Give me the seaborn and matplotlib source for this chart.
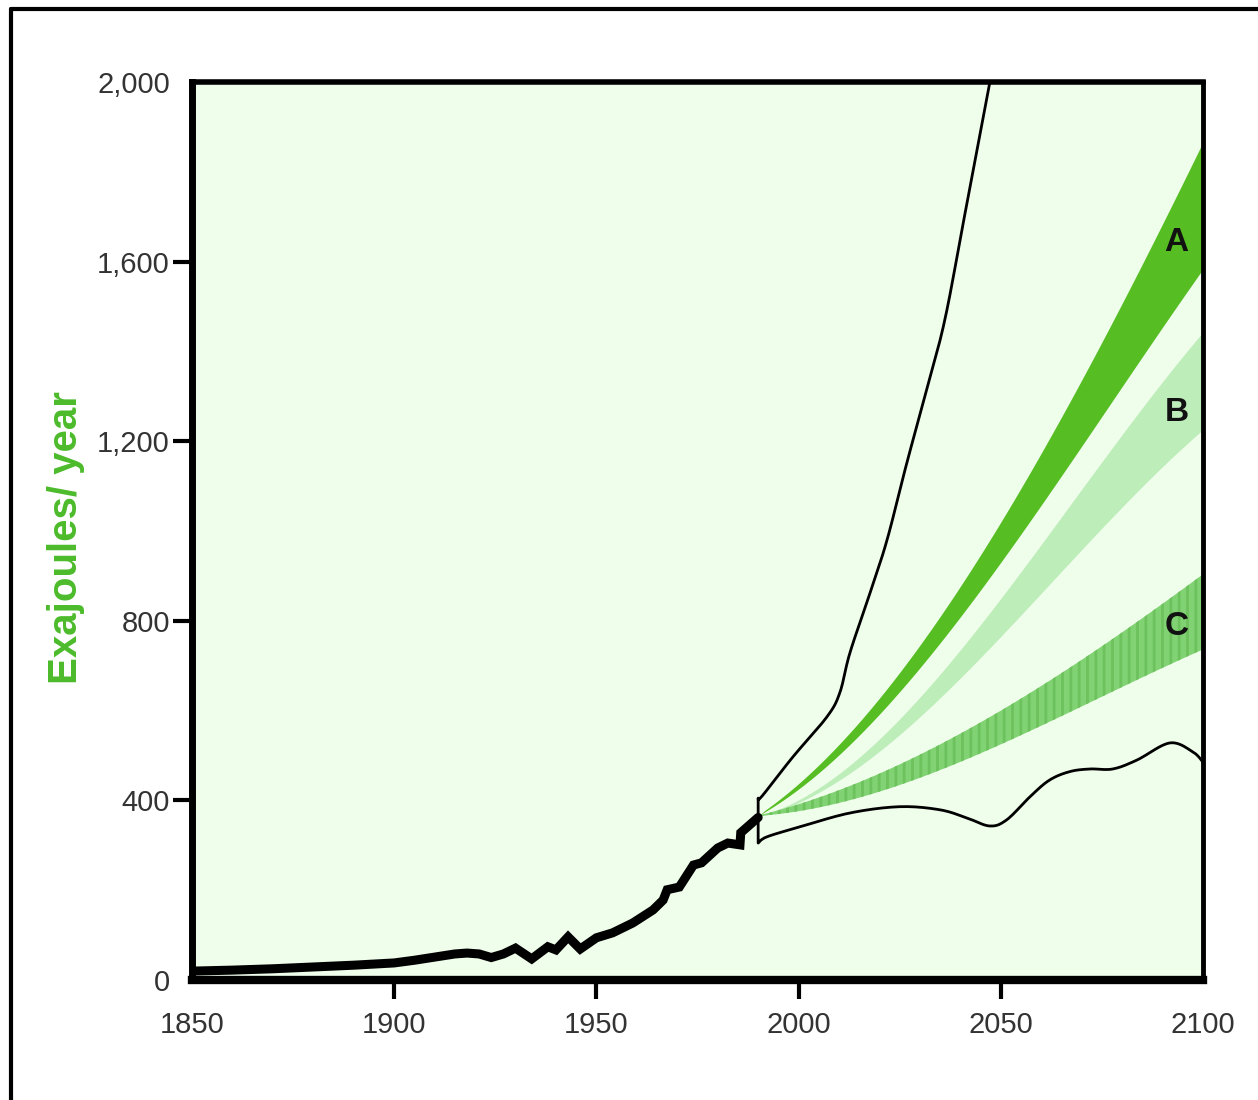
import numpy as np
import pandas as pd
import matplotlib
matplotlib.use('Agg')
import matplotlib.pyplot as plt
from matplotlib.lines import Line2D
import seaborn as sns

# historical energy use (thick line)
hist_years = [1851, 1860, 1870, 1880, 1890, 1900, 1905, 1910, 1915, 1918, 1921, 1924,
              1927, 1930, 1934, 1938, 1940, 1943, 1946, 1950, 1954, 1959, 1964, 1966.5,
              1967.5, 1970.5, 1974, 1976, 1980, 1982.5, 1985.5, 1985.7, 1990]
hist_vals = [20, 22, 25, 29, 33, 38, 44, 51, 58, 60, 58, 50,
             58, 71, 47, 74, 67, 96, 69, 94, 105, 127, 156, 178,
             201, 207, 256, 261, 294, 305, 301, 328, 362]

# upper / lower envelope of all scenarios (thin lines)
upper_years = [1990, 1990, 1991, 1998.6, 2007, 2010.2, 2012.7, 2017.7, 2021.9, 2026.8,
               2031.7, 2036.2, 2041, 2047.3, 2050]
upper_vals = [362, 405, 410, 497, 586, 640, 729, 863, 981, 1153,
              1315, 1472, 1700, 2000, 2150]
lower_years = [1990, 1990, 1992.2, 2000.3, 2012.7, 2025, 2035, 2041.6, 2047.3, 2051.5,
               2057.2, 2062, 2067, 2072, 2077.7, 2083.7, 2091.8, 2097.5, 2100]
lower_vals = [362, 305, 319, 341, 372, 386, 379, 361, 343, 357,
              408, 445, 464, 470, 470, 490, 528, 508, 485]

# scenario bands A, B, C
band_years = [1990, 2015.2, 2040, 2064.6, 2100]
a_top = [365, 586, 863, 1255, 1865]
a_bot = [365, 551, 803, 1121, 1583]
b_top = [365, 497, 736, 1026, 1443]
b_bot = [365, 468, 685, 899, 1227]
c_top = [365, 446, 542, 685, 903]
c_bot = [365, 408, 484, 587, 736]
band_labels = ['A', 'B', 'C']
label_pos = [1643, 1264, 787]

yticks = [0, 400, 800, 1200, 1600, 2000]
ytick_labels = ['0', '400', '800', '1,200', '1,600', '2,000']
xticks = [1850, 1900, 1950, 2000, 2050, 2100]

sns.set_style('white')
plt.rcParams['font.family'] = ['Liberation Sans', 'DejaVu Sans']
plt.rcParams['hatch.linewidth'] = 2.0

fig = plt.figure(figsize=(12.58, 11), dpi=100)
ax = fig.add_axes([192 / 1258, 1 - 980 / 1100, (1203 - 192) / 1258, (980 - 82) / 1100])
ax.set_facecolor('#effdeb')


def smooth(xs, ys, n=60):
    # cubic fit through the band edges
    xx = np.linspace(xs[0], xs[-1], n)
    yy = np.polyval(np.polyfit(xs, ys, 3), xx)
    yy[0] = ys[0]
    return xx, yy


def catmull(xs, ys, start=1, steps=12):
    # rounded curve through the picked points (keeps the 1990 jump sharp)
    px = np.asarray(xs, float)
    py = np.asarray(ys, float)
    outx, outy = list(px[:start + 1]), list(py[:start + 1])
    for i in range(start, len(px) - 1):
        p0 = max(i - 1, start)
        p3 = min(i + 2, len(px) - 1)
        for t in np.linspace(0, 1, steps)[1:]:
            t2, t3 = t * t, t * t * t
            f = lambda a: 0.5 * (2 * a[i] + (-a[p0] + a[i + 1]) * t
                                 + (2 * a[p0] - 5 * a[i] + 4 * a[i + 1] - a[p3]) * t2
                                 + (-a[p0] + 3 * a[i] - 3 * a[i + 1] + a[p3]) * t3)
            outx.append(f(px))
            outy.append(f(py))
    return outx, outy


bx, at = smooth(band_years, a_top)
_, ab = smooth(band_years, a_bot)
_, bt = smooth(band_years, b_top)
_, bb = smooth(band_years, b_bot)
_, ct = smooth(band_years, c_top)
_, cb = smooth(band_years, c_bot)

ax.fill_between(bx, ab, at, color='#56bd23', linewidth=0)
ax.fill_between(bx, bb, bt, color='#bdedb9', linewidth=0)
ax.fill_between(bx, cb, ct, facecolor='#80d272', edgecolor='#6dc25d', hatch='||', linewidth=0)

ux, uy = catmull(upper_years, upper_vals)
lx, ly = catmull(lower_years, lower_vals)
df_up = pd.DataFrame({'year': ux, 'ej': uy})
df_lo = pd.DataFrame({'year': lx, 'ej': ly})
df_hist = pd.DataFrame({'year': hist_years, 'ej': hist_vals})

sns.lineplot(data=df_up, x='year', y='ej', sort=False, estimator=None, color='black', linewidth=2, ax=ax)
sns.lineplot(data=df_lo, x='year', y='ej', sort=False, estimator=None, color='black', linewidth=2, ax=ax)
sns.lineplot(data=df_hist, x='year', y='ej', sort=False, estimator=None, color='black', linewidth=6.5,
             solid_joinstyle='miter', ax=ax)

for lab, yv in zip(band_labels, label_pos):
    ax.text(2093.5, yv, lab, ha='center', va='center', fontsize=24, fontweight='bold', color='#111111')

ax.set_xlim(1850, 2100)
ax.set_ylim(0, 2000)
ax.set_xticks(xticks)
ax.set_yticks(yticks)
ax.set_yticklabels(ytick_labels)
ax.tick_params(axis='both', which='major', direction='out', length=14, width=3, color='black',
               labelsize=21, labelcolor='#333333', left=True, bottom=True, pad=2)
ax.tick_params(axis='x', pad=8)
# no tick marks at the frame corners
for tk in [ax.xaxis.get_major_ticks()[0], ax.xaxis.get_major_ticks()[-1],
           ax.yaxis.get_major_ticks()[0], ax.yaxis.get_major_ticks()[-1]]:
    tk.tick1line.set_visible(False)
ax.set_xlabel('')
ax.set_ylabel('Exajoules/ year', fontsize=29, fontweight='bold', color='#4cbb2b')
ax.yaxis.set_label_coords(-0.106, 0.493)

for side, lw in [('left', 5), ('bottom', 6), ('top', 4), ('right', 3.5)]:
    ax.spines[side].set_visible(True)
    ax.spines[side].set_linewidth(lw)
    ax.spines[side].set_color('black')

# outer frame (left and top edges)
fig.add_artist(Line2D([11 / 1258, 11 / 1258], [0, 1 - 9 / 1100], color='black', linewidth=3,
                      transform=fig.transFigure))
fig.add_artist(Line2D([11 / 1258, 1], [1 - 9 / 1100, 1 - 9 / 1100], color='black', linewidth=3,
                      transform=fig.transFigure))

fig.savefig('out.png', dpi=100)
